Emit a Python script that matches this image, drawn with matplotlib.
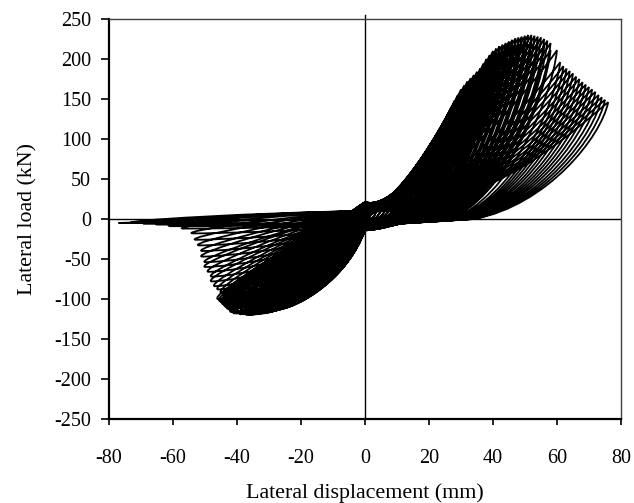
import numpy as np
import matplotlib
matplotlib.use("Agg")
import matplotlib.pyplot as plt
from matplotlib.path import Path
from matplotlib.patches import PathPatch

plt.rcParams['font.family'] = ['Liberation Serif', 'DejaVu Serif']

# Peak values of each loading cycle
pos_disp = [2, 2, 4, 4, 6, 6, 8, 8, 10, 10, 12, 12, 14, 14, 16, 16, 18, 18,
            20, 20, 21, 22, 22, 23, 24, 24, 25, 26, 26, 27, 28, 28, 29, 30, 30, 31,
            32, 32, 33, 34, 34, 35, 36, 36, 37, 38, 38, 39, 40, 40, 41, 42, 42, 43,
            44, 44, 45, 46, 46, 47, 48, 48, 49, 50, 50, 51, 52, 52, 53, 54, 54, 55,
            56, 56, 57, 58, 58,
            60, 61, 62, 63, 64, 65, 66, 67, 68, 69, 70, 71, 72, 73, 74, 75, 76]
pos_load = [10, 9, 17, 16, 24, 23, 30, 28, 36, 34, 42, 40, 50, 47, 60, 56, 72, 68,
            85, 80, 92, 100, 94, 107, 115, 108, 124, 132, 124, 140, 148, 140, 155,
            162, 153, 167, 172, 164, 176, 180, 172, 184, 188, 180, 194, 200, 191, 205,
            210, 200, 213, 216, 207, 218, 220, 212, 222, 224, 216, 226, 227, 219, 228,
            229, 221, 230, 230, 222, 229, 228, 220, 227, 225, 216, 223, 220, 211,
            211, 196, 191, 188, 185, 182, 178, 175, 171, 168, 165, 162, 159, 155, 152,
            149, 146]
neg_disp = [-2, -2, -3.5, -3.5, -5, -5, -7, -7, -8.5, -8.5, -10, -10, -12, -12, -13.5,
            -13.5, -15, -15,
            -17, -17, -18, -19, -19, -19.5, -20, -20, -21, -22, -22, -23, -24, -24,
            -24.5, -25, -25, -26, -27, -27, -28, -29, -29, -30, -31, -31, -31.5, -32,
            -32, -33, -34, -34, -35, -36, -36, -36.5, -37, -37, -38, -39, -39, -40,
            -41, -41, -41.5, -42, -42, -42.5, -43, -43, -43.5, -44, -44, -44.5, -45,
            -45, -45.5, -46, -46,
            -47, -48, -48, -49, -50, -50, -51, -51, -52, -53, -54, -57, -61, -65, -69,
            -73, -77]
neg_load = [-10, -9, -18, -16, -27, -25, -37, -34, -45, -42, -53, -50, -62, -58, -70,
            -66, -78, -73,
            -85, -80, -89, -92, -87, -95, -97, -92, -100, -102, -97, -105, -107, -101,
            -108, -110, -104, -112, -113, -107, -114, -115, -109, -116, -117, -111,
            -117, -118, -112, -118, -119, -113, -119, -120, -114, -119, -120, -113,
            -119, -119, -111, -118, -118, -108, -116, -116, -104, -113, -112, -100,
            -110, -108, -96, -106, -104, -92, -102, -100, -88,
            -84, -78, -72, -66, -60, -54, -47, -40, -33, -26, -18, -12, -9, -7, -6,
            -5, -5]
# load where each cycle crosses zero displacement (upward / downward)
cross_up = [2, 2, 3, 3, 4, 4, 5, 5, 6, 6, 7, 7, 8, 8, 9, 9, 10, 10,
            11, 11, 11, 12, 12, 12, 13, 13, 13, 14, 14, 14, 15, 15, 15, 16, 16, 16,
            17, 17, 17, 18, 18, 18, 19, 19, 19, 20, 20, 20, 21, 21, 21, 21, 21, 21,
            20, 20, 20, 19, 19, 19, 18, 18, 18, 17, 17, 17, 16, 16, 16, 15, 15, 15,
            14, 14, 14, 13, 13,
            13, 13, 12, 12, 12, 12, 11, 11, 11, 11, 11, 10, 10, 10, 10, 10, 10]
cross_down = [-1, -1, -2, -2, -2, -2, -3, -3, -3, -3, -4, -4, -5, -5, -5, -5, -6, -6,
              -7, -7, -7, -8, -8, -8, -9, -9, -9, -10, -10, -10, -11, -11, -11, -12,
              -12, -12, -13, -13, -13, -14, -14, -14, -14, -14, -14, -13, -13, -13,
              -12, -12, -12, -11, -11, -11, -10, -10, -10, -9, -9, -9, -8, -8, -8,
              -8, -8, -8, -7, -7, -7, -7, -7, -7, -7, -7, -7, -7, -7,
              -7, -7, -7, -7, -7, -7, -7, -7, -7, -7, -7, -7, -7, -7, -7, -7, -7]
# pinching of the positive reloading branch (fraction of peak displacement)
pinch = [0.3] * 77 + [0.32, 0.35, 0.38, 0.4, 0.42, 0.44, 0.45, 0.46, 0.47, 0.48,
                      0.49, 0.5, 0.5, 0.5, 0.5, 0.5, 0.5]

x_ticks = [-80, -60, -40, -20, 0, 20, 40, 60, 80]
y_ticks = [-250, -200, -150, -100, -50, 0, 50, 100, 150, 200, 250]

fig = plt.figure(figsize=(6.34, 5.03), dpi=100)
ax = fig.add_axes([0.1719, 0.167, 0.8076, 0.7952])

verts = [(0.0, 0.0)]
codes = [Path.MOVETO]


def curve(p1, p2, p3):
    verts.extend([p1, p2, p3])
    codes.extend([Path.CURVE4] * 3)


n = len(pos_disp)
for i in range(n):
    dp, fp = pos_disp[i], pos_load[i]
    dn, fn = neg_disp[i], neg_load[i]
    y0 = cross_up[i]
    c = cross_down[i]
    k = pinch[i]
    y1 = cross_up[i + 1] if i + 1 < n else 0
    # positive loading
    curve((k * dp, 0.3 * y0), (0.88 * dp, 0.8 * fp), (dp, fp))
    # positive unloading
    curve((0.97 * dp, 0.7 * fp), (0.75 * dp, 0.12 * fp), (0.45 * dp, 0))
    curve((0.3 * dp, 0.4 * c), (0.12 * dp, c), (0, c))
    # negative loading
    curve((0.2 * dn, c + 0.65 * (fn - c)), (0.85 * dn, 1.0 * fn), (dn, fn))
    # negative unloading
    curve((1.06 * dn, 1.0 * fn + 0.3 * y1), (0.45 * dn, 0.35 * fn + y1), (0, y1))

ax.add_patch(PathPatch(Path(verts, codes), fill=False, lw=1.3, ec='black'))

ax.axhline(0, color='black', lw=1.0)
ax.plot([0, 0], [-250, 255], color='black', lw=1.0, clip_on=False)

ax.set_xlim(-80, 80)
ax.set_ylim(-250, 250)
ax.set_xticks(x_ticks)
ax.set_yticks(y_ticks)
ax.set_xticklabels([str(v) for v in x_ticks])
ax.set_yticklabels([str(v) for v in y_ticks])

for s in ['left', 'bottom']:
    ax.spines[s].set_linewidth(1.6)
    ax.spines[s].set_color('black')
for s in ['top', 'right']:
    ax.spines[s].set_linewidth(1.0)
    ax.spines[s].set_color('#404040')

ax.tick_params(axis='y', direction='out', length=5.8, width=1.2, pad=7, labelsize=14.5)
ax.tick_params(axis='x', direction='out', length=4.3, width=1.2, pad=17, labelsize=14.5)

ax.set_xlabel('Lateral displacement (mm)', fontsize=15.8, labelpad=11)
ax.set_ylabel('Lateral load (kN)', fontsize=15.8, labelpad=12)

fig.savefig('out.png', dpi=100)
